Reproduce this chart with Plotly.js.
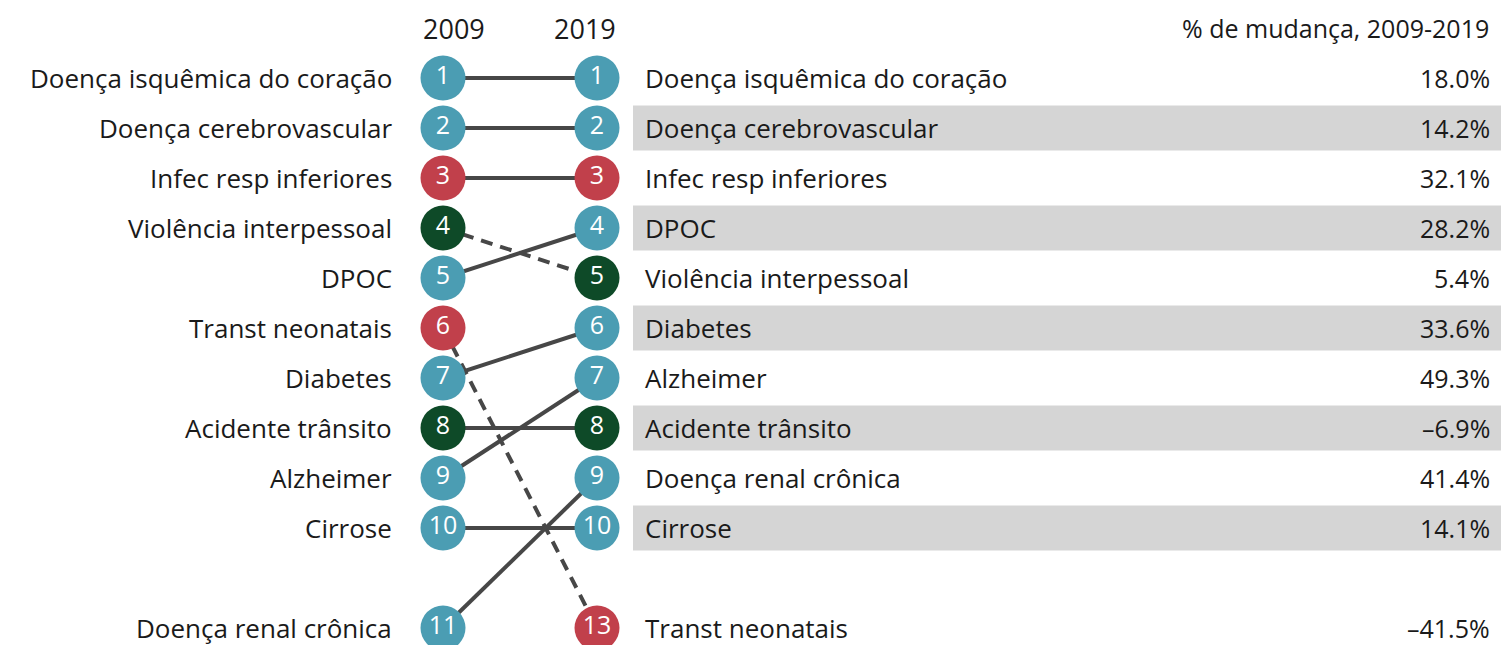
<!DOCTYPE html>
<html>
<head>
<meta charset="utf-8">
<script src="https://cdn.plot.ly/plotly-3.0.1.min.js"></script>
<style>html,body{margin:0;padding:0;background:#fff;}#chart{width:1501px;height:645px;}</style>
</head>
<body>
<div id="chart"></div>
<script>
// ---- data ----
const causes = ["Doença isquêmica do coração", "Doença cerebrovascular", "Infec resp inferiores", "Violência interpessoal", "DPOC", "Transt neonatais", "Diabetes", "Acidente trânsito", "Alzheimer", "Cirrose", "Doença renal crônica"];
const rank2009 = [1, 2, 3, 4, 5, 6, 7, 8, 9, 10, 11];
const rank2019 = [1, 2, 3, 5, 4, 13, 6, 8, 7, 10, 9];
const groups = ["ncd", "ncd", "com", "inj", "ncd", "com", "ncd", "inj", "ncd", "ncd", "ncd"];
const pctChange = [18.0, 14.2, 32.1, 5.4, 28.2, -41.5, 33.6, -6.9, 49.3, 14.1, 41.4];
const years = [2009, 2019];
const headerPct = "% de mudança, 2009-2019";

// ---- styles ----
const groupColors = {ncd: "#4b9db3", com: "#c1404b", inj: "#0e4a28"};
const FONT = "'Open Sans', 'Noto Sans', sans-serif";
const TXT = "#1a1a1a";
const FS = 26;
const W = 1501, H = 645;
const px = v => v / W;
const slot = r => (r <= 10 ? r : 12);

const traces = [];
// connecting lines
causes.forEach((c, i) => {
  const worse = rank2019[i] > rank2009[i];
  traces.push({
    type: "scatter", mode: "lines", hoverinfo: "skip", showlegend: false,
    x: years, y: [slot(rank2009[i]), slot(rank2019[i])],
    line: {color: "#474747", width: 4, dash: worse ? "12px,8px" : "solid"}
  });
});
// circles
[["2009", rank2009], ["2019", rank2019]].forEach(([yr, ranks]) => {
  traces.push({
    type: "scatter", mode: "markers+text", hoverinfo: "skip", showlegend: false,
    x: ranks.map(() => +yr), y: ranks.map(slot),
    text: ranks.map(String), textposition: "middle center",
    textfont: {family: FONT, size: 25, color: "#ffffff"},
    marker: {size: 45, color: groups.map(g => groupColors[g]), line: {width: 0}}
  });
});

const annotations = [];
const shapes = [];
// headers
const yearHeaderX = [454, 585];
years.forEach((yr, k) => annotations.push({
  x: px(yearHeaderX[k]), y: 0, xref: "paper", yref: "y", text: String(yr), showarrow: false,
  xanchor: "center", yanchor: "middle", font: {family: FONT, size: 27, color: TXT}
}));
annotations.push({
  x: px(1491), y: 0, xref: "paper", yref: "y", text: headerPct, showarrow: false,
  xanchor: "right", yanchor: "middle", font: {family: FONT, size: 25, color: TXT}
});
// left labels
causes.forEach((c, i) => annotations.push({
  x: px(394), y: slot(rank2009[i]), xref: "paper", yref: "y", text: c, showarrow: false,
  xanchor: "right", yanchor: "middle", font: {family: FONT, size: FS, color: TXT}
}));
// right labels, percents, bands
causes.forEach((c, i) => {
  const s = slot(rank2019[i]);
  if (rank2019[i] <= 10 && rank2019[i] % 2 === 0) {
    shapes.push({type: "rect", xref: "paper", yref: "y", x0: px(633), x1: 1,
      y0: s - 0.45, y1: s + 0.45, fillcolor: "#d5d5d5", line: {width: 0}, layer: "below"});
  }
  annotations.push({
    x: px(643), y: s, xref: "paper", yref: "y", text: c, showarrow: false,
    xanchor: "left", yanchor: "middle", font: {family: FONT, size: FS, color: TXT}
  });
  annotations.push({
    x: px(1492), y: s, xref: "paper", yref: "y",
    text: pctChange[i].toFixed(1).replace("-", "\u2013") + "%", showarrow: false,
    xanchor: "right", yanchor: "middle", font: {family: FONT, size: 25, color: TXT}
  });
});

// axis ranges: 2009 -> x=443px, 2019 -> x=597px ; slot 1 -> y=78px, 50px per slot
const ppy = (597 - 443) / 10;
const xr = [2009 - 443 / ppy, 2009 + (W - 443) / ppy];
const yr = [1 + (H - 78) / 50, 1 - 78 / 50];

Plotly.newPlot("chart", traces, {
  width: W, height: H, margin: {l: 0, r: 0, t: 0, b: 0},
  paper_bgcolor: "#ffffff", plot_bgcolor: "#ffffff",
  xaxis: {range: xr, visible: false, fixedrange: true},
  yaxis: {range: yr, visible: false, fixedrange: true},
  annotations, shapes, showlegend: false
}, {displayModeBar: false, staticPlot: true});
</script>
</body>
</html>
